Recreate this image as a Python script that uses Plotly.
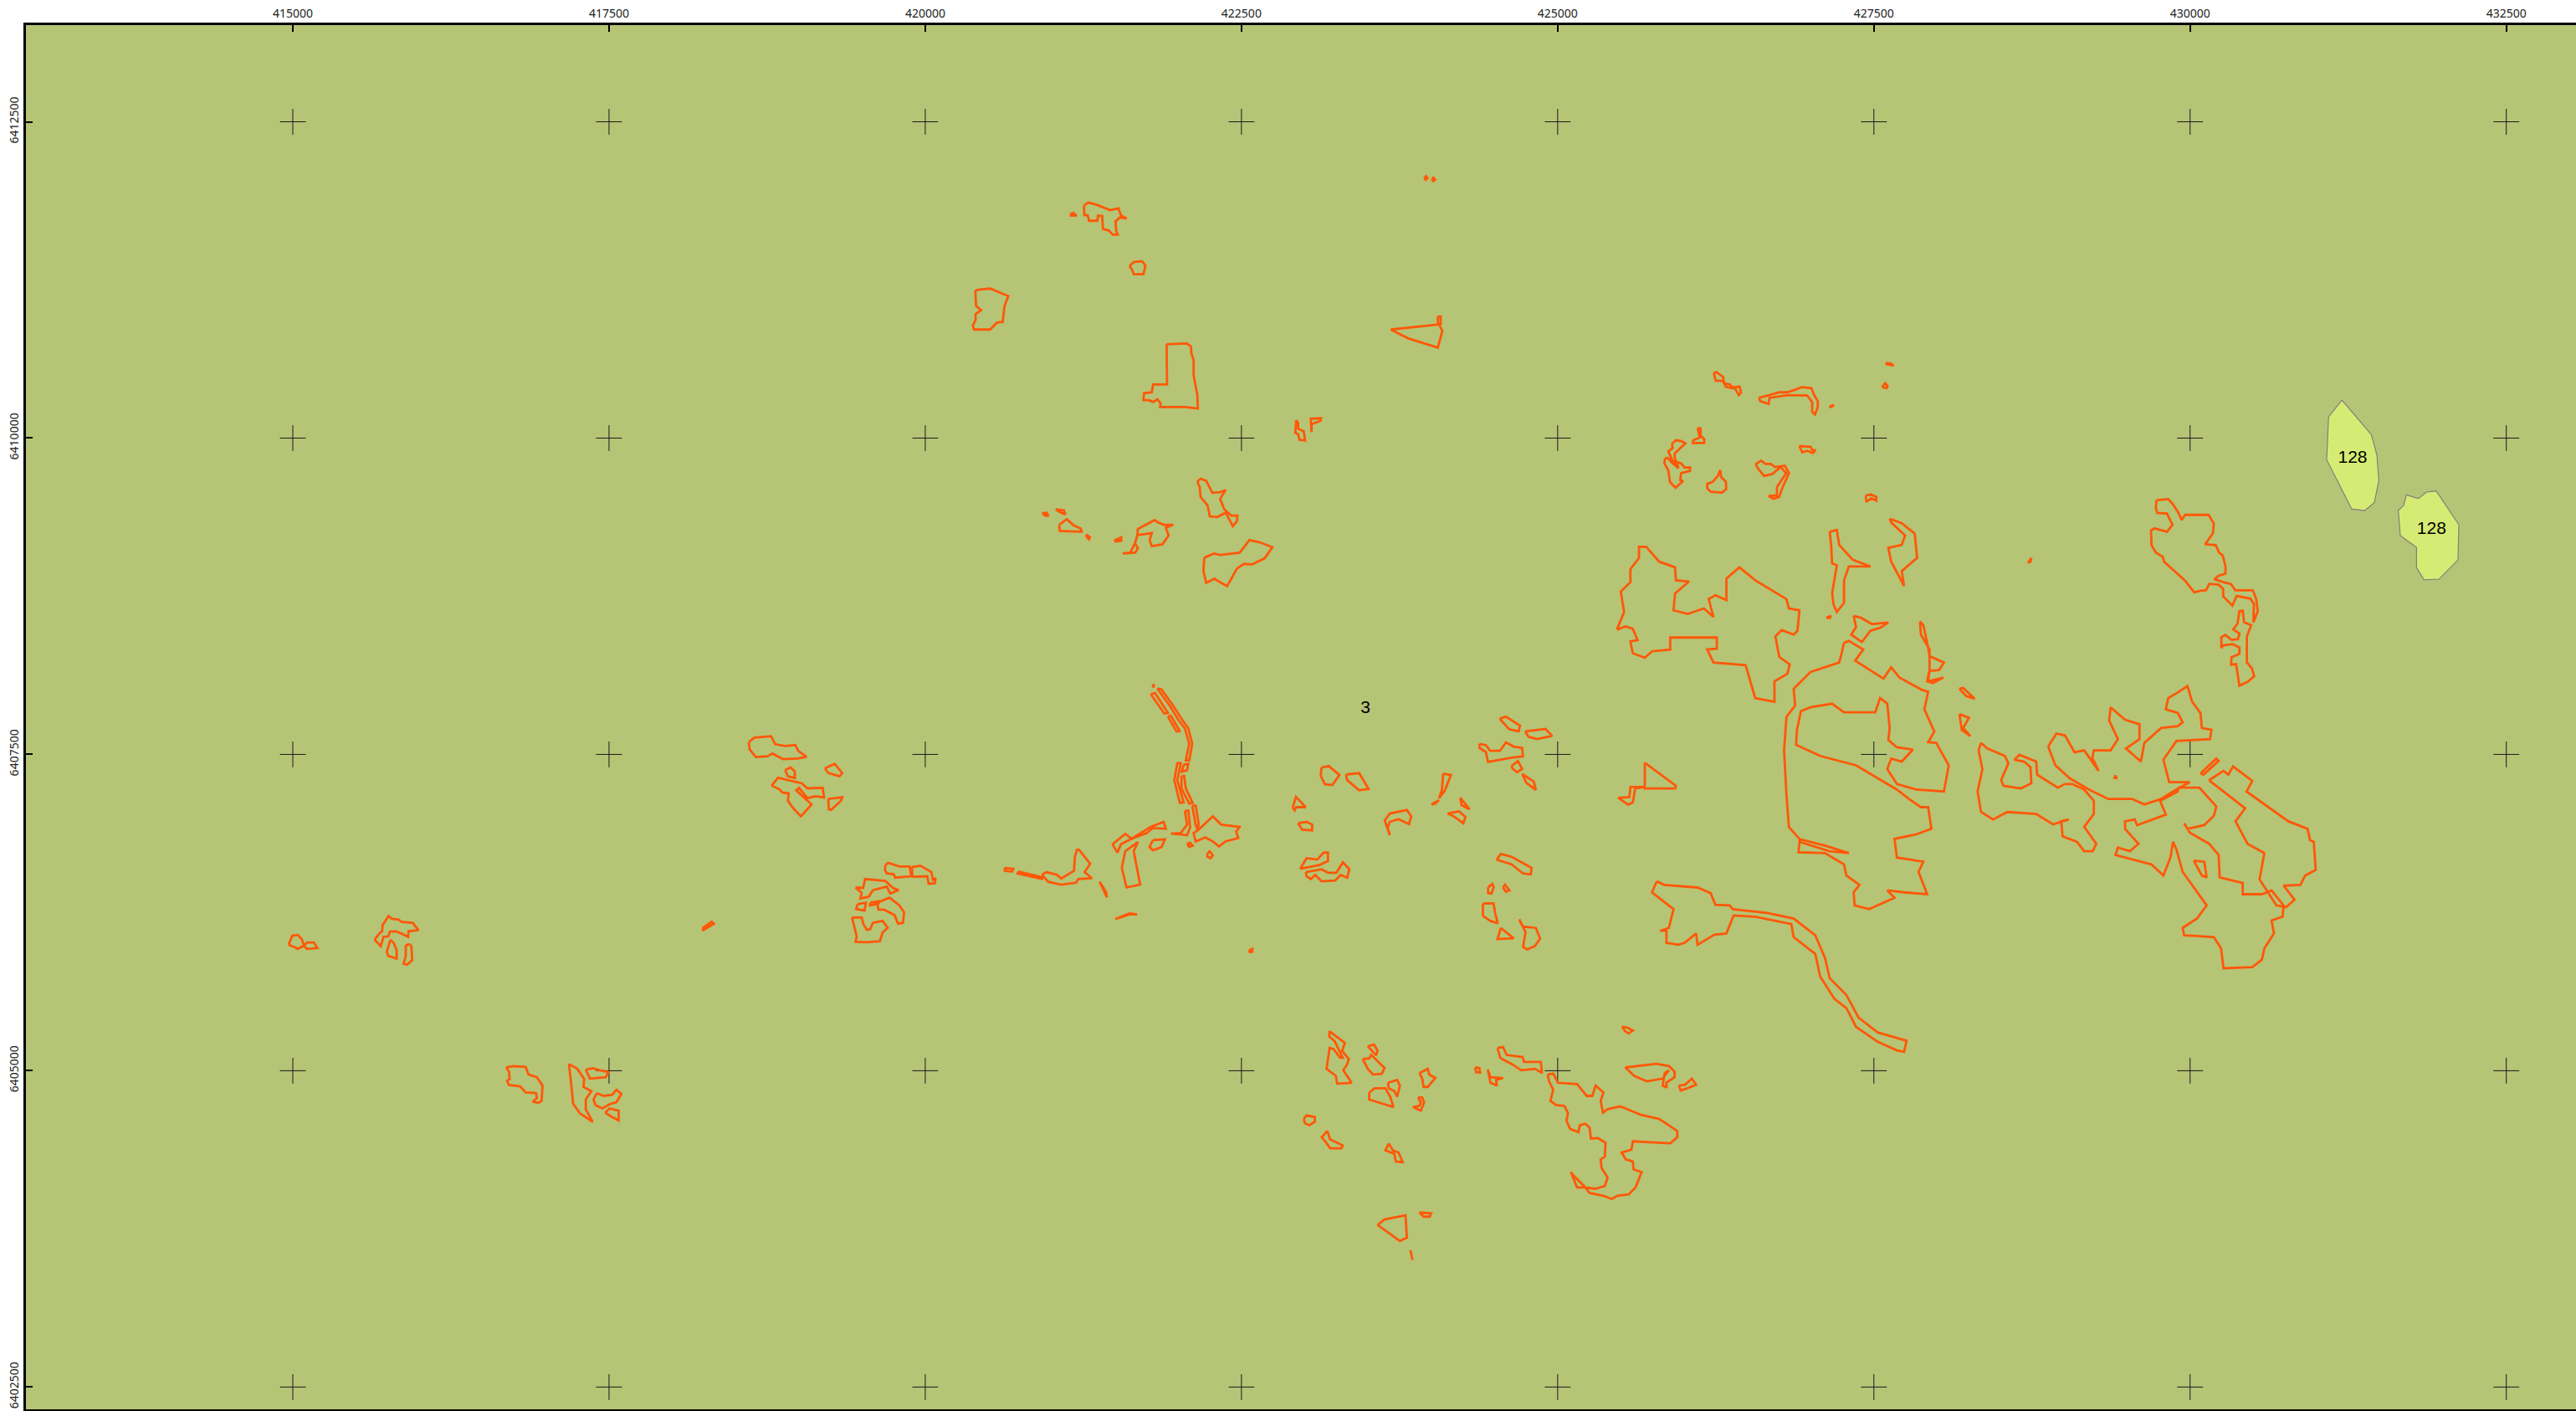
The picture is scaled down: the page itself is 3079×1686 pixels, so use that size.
import plotly.graph_objects as go

# Map grid (metres). Vertices below are stored as offsets from these bases.
E0 = 400000
N0 = 6400000
tick_e = [415000, 417500, 420000, 422500, 425000, 427500, 430000, 432500]
tick_n = [6412500, 6410000, 6407500, 6405000, 6402500]

zone_128_a_e = [31201,31095,31080,31278,31380,31457,31492,31477,31433]
zone_128_a_n = [10300,10168,9828,9440,9427,9491,9663,9866,10027]
zone_128_b_e = [31710,31805,31869,31946,32125,32118,31968,31849,31790,31790,31662,31646,31688]
zone_128_b_n = [9551,9522,9573,9582,9315,9039,8885,8880,8977,9136,9229,9429,9467]

label_text = ["128", "128", "3"]
label_e = [31285, 31909, 23480]
label_n = [9840, 9277, 7860]

# Each entry: (eastings, northings) of one mapped parcel boundary
parcels = [
# far west
([14967,14996,15040,15071,15089,15040,15011],[5996,6067,6073,6040,5990,5963,5979]),
([15089,15115,15166,15194,15115,15100],[5990,6014,6014,5970,5963,5974]),
([15646,15684,15706,15710,15757,15783,15838,15856,15949,15993,15915,15911,15856,15816,15768,15754,15717,15695],[6036,6085,6102,6151,6223,6201,6195,6177,6168,6111,6102,6058,6085,6102,6100,6062,6058,5985]),
([15772,15799,15821,15821,15754,15743],[6036,6007,5952,5886,5908,5941]),
([15915,15937,15944,15904,15876,15893,15893],[6003,5985,5875,5838,5846,5908,5985]),
([16687,16742,16841,16863,16930,16974,16967,16941,16897,16930,16923,16841,16797,16709,16694,16714,16709],[5026,5037,5031,4971,4949,4883,4762,4746,4755,4784,4823,4828,4876,4887,4920,4934,4993]),
([17183,17249,17304,17298,17360,17316,17316,17371,17271,17216,17201],[5053,5015,4934,4872,4839,4773,4695,4596,4662,4740,4894]),
([17316,17371,17426,17496,17474,17349],[5009,5020,5004,4989,4949,4938]),
([17404,17459,17525,17558,17598,17558,17503,17448,17393,17377],[4823,4801,4810,4850,4817,4751,4735,4702,4729,4773]),
([17470,17503,17576,17576,17525],[4667,4702,4684,4607,4634]),
# west centre
([18605,18649,18781,18814,18892,18973,18995,19061,18991,18876,18792,18753,18660,18612],[7596,7633,7644,7580,7567,7574,7529,7481,7468,7463,7507,7485,7479,7540]),
([19207,19284,19344,19322,19233],[7391,7426,7353,7327,7353]),
([18892,18936,18969,18969,18914],[7375,7397,7364,7313,7327]),
([18786,18836,19024,19068,19189,19200,19134,19068,19002,18980,19101,19017,18958,18914,18920,18870,18847],[7254,7316,7272,7232,7236,7159,7170,7155,7236,7216,7104,7011,7073,7133,7192,7199,7225]),
([19233,19344,19333,19255,19238],[7148,7161,7133,7062,7066]),
([19685,19707,19796,19877,19890,19762,19751,19696,19681],[6626,6643,6614,6614,6537,6526,6553,6559,6588]),
([19895,19961,20049,20060,20082,20076,20027,20016,19917,19899],[6610,6621,6570,6509,6522,6482,6478,6537,6533,6537]),
([19449,19509,19524,19685,19745,19789,19723,19696,19586,19553,19487,19498],[6449,6445,6515,6500,6445,6427,6401,6456,6427,6376,6361,6405]),
([19465,19531,19520,19454],[6317,6328,6266,6279]),
([19564,19630,19630,19564],[6328,6339,6321,6306]),
([19619,19718,19796,19833,19824,19785,19758,19674,19630],[6328,6368,6306,6251,6169,6163,6229,6273,6273]),
([19421,19498,19509,19538,19564,19586,19663,19703,19663,19641,19542,19449,19458],[6211,6211,6163,6114,6118,6169,6185,6130,6092,6024,6015,6019,6063]),
([18237,18312,18329,18246],[6125,6178,6162,6112]),
# north centre
([21255,21289,21350,21461,21527,21549,21593,21538,21505,21509,21522,21483,21450,21405,21399,21366,21361,21295,21284,21258],[11839,11861,11846,11802,11817,11758,11736,11744,11714,11641,11608,11608,11641,11652,11755,11758,11718,11718,11762,11762]),
([21147,21170,21196,21152],[11769,11780,11758,11758]),
([21615,21648,21714,21741,21725,21648,21637],[11359,11392,11398,11365,11295,11295,11328]),
([20396,20424,20512,20656,20627,20612,20568,20512,20385,20376,20398,20398,20442,20402],[11167,11173,11182,11123,11045,10918,10913,10858,10858,10891,10935,10979,11012,11045]),
([21908,22067,22100,22104,22122,22122,22151,22155,22056,21857,21862,21835,21802,21769,21725,21730,21791,21802,21912],[10741,10748,10726,10671,10616,10494,10340,10234,10245,10245,10274,10307,10285,10300,10300,10355,10362,10424,10424]),
([22151,22177,22221,22270,22331,22375,22331,22365,22420,22468,22464,22431,22409,22375,22309,22250,22232,22177,22170],[9656,9679,9663,9568,9573,9590,9520,9436,9387,9387,9343,9304,9348,9410,9376,9381,9469,9535,9612]),
([20925,20960,20975,20949],[9407,9410,9385,9387]),
([21031,21097,21108,21075],[9436,9429,9396,9410]),
([21059,21119,21174,21229,21236,21064],[9315,9359,9310,9286,9260,9266]),
([21273,21302,21295,21278],[9238,9216,9200,9216]),
([21494,21549,21549,21509],[9189,9216,9189,9182]),
([21677,21681,21813,21846,21890,21961,21902,21924,21875,21791,21774,21791,21677,21659,21621,21560,21659,21681,21659],[9233,9282,9352,9330,9315,9315,9293,9231,9160,9145,9194,9249,9233,9171,9094,9088,9094,9127,9171]),
([22206,22283,22331,22486,22563,22640,22744,22684,22585,22519,22464,22387,22309,22287,22221,22199],[9055,9088,9077,9094,9194,9178,9138,9050,9002,9006,8969,8830,8874,8889,8856,8951]),
([23945,23958,23971,23958],[12055,12069,12055,12042]),
([24004,24018,24031,24018],[12044,12058,12044,12031]),
([23680,24062,24088,24053,23819],[10858,10898,10847,10715,10788]),
([24053,24075,24075,24053],[10962,10962,10902,10902]),
([22933,22948,22948,22992,23003,22959,22948,22926],[10142,10120,10075,10053,9981,9987,10031,10042]),
([23054,23048,23129,23125,23054],[10047,10153,10157,10137,10109]),
# north east
([26234,26256,26307,26316,26360,26382,26439,26450,26432,26404,26329,26307,26249],[10517,10521,10484,10433,10424,10402,10406,10358,10340,10389,10406,10450,10455]),
([26591,26675,26752,26814,26884,26929,27006,27028,27056,27056,27034,27012,27012,26973,26818,26675,26668,26602],[10318,10340,10362,10362,10384,10402,10395,10340,10292,10241,10186,10208,10285,10336,10340,10318,10270,10292]),
([27149,27182,27175,27153],[10248,10263,10252,10245]),
([27594,27634,27656,27601],[10594,10589,10572,10583]),
([27564,27590,27608,27601],[10402,10433,10411,10395]),
([26106,26130,26130,26161,26157,26069,26073,26124],[10080,10076,10021,9988,9961,9961,9983,10005]),
([25848,25870,25903,25954,25941,25976,26002,26047,26047,25976,25969,25991,25932,25888,25875,25844],[9838,9844,9807,9763,9811,9800,9767,9767,9741,9723,9668,9661,9608,9652,9745,9800]),
([25903,25936,25980,26009,25969,25925,25925,25954,25903,25875,25910],[9954,9983,9976,9959,9921,9877,9844,9763,9833,9895,9921]),
([26285,26267,26223,26183,26183,26212,26300,26333,26329,26293],[9749,9701,9652,9639,9602,9575,9569,9597,9657,9690]),
([26911,26999,27012,27039,27017,26973,26933],[9937,9932,9906,9904,9882,9899,9888]),
([26565,26609,26642,26686,26719,26796,26829,26774,26752,26708,26668,26734,26734,26807,26763,26719,26697,26631,26587],[9793,9822,9796,9796,9771,9782,9723,9602,9536,9520,9542,9547,9613,9723,9771,9734,9716,9701,9756]),
([27436,27480,27519,27519,27480,27440],[9547,9553,9536,9507,9524,9496]),
# east
([29735,29828,29861,29905,29934,29960,30147,30187,30181,30119,30203,30229,30258,30280,30280,30225,30192,30258,30324,30357,30496,30522,30535,30500,30505,30478,30368,30335,30262,30262,30225,30152,30125,30081,30033,29960,29795,29784,29729,29695,29691,29718,29817,29861,29817,29740,29729],[9509,9518,9481,9415,9353,9393,9393,9326,9249,9161,9154,9095,9073,8985,8929,8912,8885,8863,8846,8797,8797,8731,8632,8544,8687,8731,8753,8676,8749,8808,8841,8848,8797,8793,8780,8874,9022,9062,9095,9154,9271,9287,9260,9315,9404,9408,9448]),
([30247,30247,30280,30328,30379,30390,30341,30375,30390,30416,30427,30483,30449,30449,30489,30507,30456,30390,30364,30324,30328,30390,30390,30335,30258],[8339,8427,8444,8405,8411,8455,8489,8533,8632,8636,8544,8522,8433,8228,8180,8118,8074,8043,8213,8209,8268,8295,8345,8372,8361]),
([25468,25525,25499,25575,25575,25643,25643,25700,25803,25928,25935,26038,25928,25916,26030,26156,26232,26194,26247,26334,26334,26437,26562,26809,26828,26911,26896,26866,26771,26721,26752,26835,26816,26714,26714,26562,26486,26232,26182,26258,26258,25890,25890,25746,25689,25594,25575,25632,25594,25537],[8486,8625,8787,8861,8964,9053,9141,9141,9023,8979,8876,8867,8772,8639,8610,8654,8586,8728,8758,8719,8890,8979,8876,8728,8654,8639,8477,8447,8483,8433,8270,8211,8137,8078,7916,7945,8205,8226,8329,8335,8424,8424,8329,8315,8264,8300,8394,8403,8492,8512]),
([27264,27302,27416,27352,27576,27637,27701,27880,27929,27899,27978,27929,27993,28092,28054,27834,27682,27606,27637,27720,27808,27682,27614,27625,27606,27549,27511,27264,27169,26999,26923,26892,26885,27075,27359,27682,27777,27872,27929,27955,27834,27663,27682,27891,27853,27921,27739,27606,27663,27462,27348,27340,27386,27283,27264,27113,26904,26915,26828,26809,26790,26809,26877,26866,26999,27226,27245],[8382,8397,8329,8241,8099,8188,8108,8010,7996,7857,7680,7597,7591,7414,7207,7222,7266,7384,7467,7443,7538,7556,7615,7709,7901,7945,7833,7833,7901,7872,7842,7694,7576,7488,7414,7222,7148,7083,7083,6912,6868,6832,6685,6652,6572,6395,6410,6425,6366,6277,6307,6410,6469,6543,6631,6720,6726,6829,6927,7178,7532,7798,7886,8019,8152,8226,8300]),
([26915,27113,27302,27150,26915],[6829,6779,6720,6735,6808]),
([25689,25935,25928,25689],[7435,7252,7231,7231]),
([25689,25575,25567,25480,25556,25594,25613],[7243,7243,7163,7157,7104,7119,7231]),
([25784,25841,26106,26209,26247,26361,26384,26657,26866,27037,27113,27151,27283,27378,27530,27758,27739,27682,27530,27359,27283,27188,27075,27037,26866,26847,26562,26391,26334,26239,26106,26095,26004,25954,25860,25860,25810,25879,25916,25746],[6498,6469,6448,6404,6312,6307,6277,6247,6203,6070,5893,5731,5598,5421,5303,5237,5149,5161,5229,5347,5494,5568,5745,5923,6056,6159,6218,6227,6085,6076,5996,6085,6011,5996,6011,6106,6106,6129,6277,6410]),
([27151,27207,27226,27333,27473,27302,27264,27264,27207,27181,27170,27207,27170,27162],[9260,9274,9156,9038,8985,8985,8876,8698,8625,8684,8772,8994,9009,9156]),
([27124,27162,27151],[8580,8595,8577]),
([27625,27720,27823,27842,27720,27739,27637,27614,27720,27747,27637],[9363,9327,9245,9053,8949,8831,9023,9133,9156,9230,9333]),
([27340,27397,27485,27614,27549,27473,27405,27321,27359],[8595,8580,8530,8542,8501,8477,8388,8447,8507]),
([27864,27891,27929,27940,28054,28016,27940,27929,28050,27967,27921,27940,27940,27872],[8551,8521,8344,8276,8226,8167,8161,8078,8108,8064,8078,8167,8329,8447]),
([28176,28206,28297,28233],[8019,8025,7940,7960]),
([28176,28252,28206,28263,28195],[7818,7789,7709,7644,7694]),
([28719,28745,28738],[9014,9053,9023]),
([28347,28396,28536,28563,28506,28525,28662,28745,28738,28688,28612,28650,28783,28791,28954,29011,29068,29163,29239,29239,29163,29258,29231,29163,29106,28992,28981,29041,28916,28783,28555,28442,28347,28320,28358,28328],[7591,7547,7488,7429,7296,7252,7231,7272,7399,7443,7458,7497,7443,7340,7237,7266,7266,7222,7133,7030,6927,6794,6735,6735,6809,6853,6971,6986,6947,7030,7045,6986,7045,7207,7384,7532]),
([28878,28943,29011,29087,29163,29277,29227,29239,29372,29429,29360,29372,29486,29600,29600,29493,29611,29638,29771,29903,29941,29903,29808,29827,29903,29979,30017,30082,30093,30169,30158,29892,29789,29835,29998,29865,29771,29638,29543,29353,29201,29049,28935],[7562,7665,7650,7517,7532,7370,7473,7532,7532,7621,7768,7872,7774,7739,7621,7547,7443,7591,7709,7724,7753,7827,7857,7945,7990,8040,7916,7827,7709,7694,7621,7606,7458,7281,7281,7207,7148,7104,7148,7148,7222,7311,7414]),
([29903,30074,30207,30188,30112,29979,29953,29998,30150,30226,30234,30416,30416,30568,30644,30739,30731,30644,30663,30587,30568,30492,30264,30245,30188,30055,29953,29941,30055,30131,29941,29892,29865,29846,29789,29694,29467,29410,29429,29524,29592,29486,29486,29562,29581,29808,29763,29903],[7237,7237,7089,7015,6941,6912,6956,6882,6794,6705,6528,6484,6395,6395,6425,6307,6218,6188,6085,5967,5878,5819,5810,5967,6056,6065,6070,6129,6203,6307,6572,6749,6809,6690,6543,6631,6690,6705,6764,6735,6794,6912,6971,6986,6941,7024,7133,7207]),
([30150,30264,30302,30340,30492,30446,30777,30929,30948,30978,30993,30910,30872,30739,30826,30758,30682,30549,30587,30454,30359,30435],[7296,7370,7340,7405,7290,7207,6971,6912,6823,6809,6587,6543,6469,6463,6351,6292,6307,6513,6720,6794,6971,7074]),
([30082,30207,30226,30106],[7349,7467,7449,7340]),
([30029,30112,30131,30093],[6661,6652,6528,6543]),
([29410,29421,29402],[7334,7310,7316]),
# central spine and cluster
([21794,21810,21804],[8040,8054,8036]),
([21834,21868,21952,22026,22080,22111,22087,22060,22087,22053,22003,21935],[8021,8014,7897,7782,7705,7584,7452,7452,7584,7705,7771,7882]),
([21783,21817,21919,21891],[7976,7985,7827,7822]),
([21918,21942,22013,21986],[7800,7805,7683,7683]),
([22043,22080,22070,22029],[7419,7425,7375,7364]),
([21993,22020,21993,22043,22013,21969],[7434,7430,7297,7121,7117,7297]),
([22026,22047,22060,22114,22087,22026],[7330,7330,7231,7117,7110,7231]),
([22111,22138,22161,22155,22138],[7095,7095,6956,6900,6945]),
([22053,22080,22094,22070,22026,21942,22020,22070],[7055,7055,6923,6861,6867,6874,6878,6945]),
([22155,22273,22340,22485,22458,22475,22374,22323,22273,22215,22138,22121],[6900,7011,6945,6927,6890,6839,6812,6773,6812,6845,6812,6878]),
([22070,22094,22114,22087],[6795,6801,6779,6768]),
([22229,22249,22273,22256,22232],[6713,6735,6702,6680,6691]),
([21480,21581,21632,21783,21885,21902,21800,21750,21632,21547,21520],[6790,6872,6834,6927,6967,6912,6918,6878,6834,6790,6724]),
([21581,21682,21648,21699,21591,21554],[6735,6808,6735,6471,6449,6603]),
([21800,21895,21868,21800,21773],[6823,6830,6768,6742,6768]),
([20629,20697,20687,20629],[6603,6596,6574,6581]),
([20737,20923,20923,20730],[6574,6530,6515,6559]),
([20923,20957,21041,21075,21176,21183,21200,21216,21304,21260,21318,21210,21193,21075,20973],[6548,6570,6548,6519,6581,6691,6746,6746,6636,6570,6521,6515,6486,6471,6493]),
([21379,21429,21436],[6493,6415,6371]),
([21503,21615,21675,21615],[6199,6243,6235,6235]),
([22559,22586,22586,22566],[5952,5963,5941,5937]),
([23133,23190,23275,23218,23160,23127],[7397,7408,7337,7258,7264,7330]),
([23326,23430,23505,23430,23336],[7341,7352,7227,7216,7297]),
([22904,22931,23008,22931,22921],[7077,7165,7083,7083,7059]),
([22948,23015,23059,23059,22981],[6956,6967,6945,6900,6905]),
([23673,23633,23673,23808,23842,23825,23741,23673,23656],[6861,6978,7033,7061,7011,6949,6989,6967,6923]),
([24001,24062,24028],[7103,7139,7110]),
([24095,24156,24105,24062,24085],[7348,7337,7209,7154,7220]),
([24230,24304,24240],[7158,7066,7099]),
([24129,24220,24271,24254,24179],[7033,7050,7006,6956,7011]),
([22964,23015,23099,23150,23184,23184,23116],[6596,6680,6669,6724,6724,6658,6625]),
([23008,23133,23184,23251,23302,23353,23336,23285,23241,23133,23083,23049,23015],[6570,6592,6565,6565,6647,6592,6526,6548,6504,6497,6548,6515,6537]),
([24541,24591,24702,24692,24618],[7782,7798,7727,7683,7699]),
([24743,24905,24956,24838,24770],[7683,7701,7646,7622,7639]),
([24382,24433,24466,24544,24591,24652,24719,24726,24635,24449,24433,24382],[7584,7573,7529,7529,7595,7562,7551,7485,7474,7441,7518,7551]),
([24635,24686,24719,24679,24645],[7408,7447,7386,7359,7386]),
([24719,24811,24828,24753],[7346,7286,7220,7275]),
([24517,24551,24635,24794,24787,24726,24635],[6669,6713,6691,6603,6552,6559,6632]),
([24450,24484,24494,24477,24450],[6449,6477,6449,6400,6404]),
([24568,24584,24618,24591],[6449,6471,6426,6415]),
([24409,24493,24507,24527,24467,24409],[6321,6323,6239,6166,6184,6224]),
([24551,24591,24652,24524],[6129,6096,6047,6041]),
([24696,24726,24827,24861,24821,24760,24726,24746],[6195,6140,6129,6045,5986,5959,5979,6096]),
# south centre
([23195,23318,23296,23349,23334,23305,23371,23257,23246,23173,23197,23230,23279,23301,23235,23195],[5313,5220,5158,5092,5048,5004,4905,4898,4960,5015,5181,5170,5103,5103,5236,5269]),
([23499,23548,23576,23565,23532],[5192,5207,5158,5121,5158]),
([23459,23510,23526,23631,23609,23539,23499],[5092,5097,5125,5022,4976,4971,5015]),
([23907,23973,23984,24033,23973,23940,23929],[4982,5015,4971,4942,4872,4872,4938]),
([23658,23731,23753,23731,23709,23665],[4905,4927,4883,4795,4839,4861]),
([23510,23554,23638,23676,23702,23510],[4828,4861,4861,4795,4713,4773]),
([23896,23929,23944,23918,23856,23907,23918],[4788,4788,4750,4684,4713,4722,4750]),
([22992,23014,23080,23080,23036,23003],[4618,4647,4634,4596,4570,4585]),
([23179,23201,23257,23301,23290,23201,23168,23135],[4524,4457,4431,4409,4387,4387,4435,4475]),
([23665,23698,23742,23775,23720,23709,23638],[4424,4369,4354,4277,4283,4343,4371]),
([23576,23631,23797,23808,23753],[3781,3825,3858,3681,3655]),
([23907,24000,23989,23940],[3880,3873,3847,3847]),
([23836,23852],[3582,3505]),
([24348,24381,24386,24355],[5026,5022,4987,4989]),
([24447,24469,24568,24513,24520,24469],[5009,4949,4942,4927,4883,4905]),
([24524,24568,24597,24723,24734,24866,24877,24822,24712,24646,24568,24546],[5181,5187,5125,5108,5070,5070,4982,5015,5004,5048,5088,5103]),
([24921,24965,25003,25153,25230,25274,25300,25362,25340,25358,25395,25495,25660,25803,25946,25946,25891,25594,25583,25506,25539,25594,25600,25664,25616,25561,25472,25428,25362,25252,25219,25153,25104,25120,25219,25296,25373,25395,25347,25340,25373,25378,25318,25263,25252,25219,25175,25164,25098,25069,25082,25054,24987,24943,24965,24932],[4971,4978,4905,4894,4801,4801,4883,4828,4762,4669,4696,4718,4651,4618,4524,4475,4427,4442,4376,4354,4299,4283,4221,4199,4078,4023,4012,3986,4012,4034,4078,4078,4199,4177,4078,4067,4089,4155,4232,4299,4321,4431,4468,4464,4552,4581,4568,4515,4541,4607,4662,4722,4729,4762,4850,4916]),
([25534,25781,25880,25924,25924,25858,25863,25830,25847,25880,25830,25704,25605],[5026,5055,5037,4993,4949,4905,4867,4883,4982,5004,4938,4916,4960]),
([25958,26008,26061,26094,26024,25973],[4883,4890,4938,4890,4861,4843]),
([25510,25554,25594,25561,25532],[5350,5339,5317,5295,5313]),
]

ORANGE = "#FF5808"
fig = go.Figure()

# Grid crosses
cross_x = [e for e in tick_e for _ in tick_n]
cross_y = [n for _ in tick_e for n in tick_n]
fig.add_trace(go.Scatter(x=cross_x, y=cross_y, mode="markers",
                         marker=dict(symbol="cross-thin", size=22, color="black",
                                     line=dict(color="#1a1a1a", width=1))))

# Pale zone polygons
for ze, zn in ((zone_128_a_e, zone_128_a_n), (zone_128_b_e, zone_128_b_n)):
    fig.add_trace(go.Scatter(x=[E0 + v for v in ze + ze[:1]], y=[N0 + v for v in zn + zn[:1]],
                             mode="lines", fill="toself", fillcolor="#D6EB73",
                             line=dict(color="#7A7A7A", width=1.1)))

# Parcel outlines
px, py = [], []
for pe, pn in parcels:
    px += [E0 + v for v in pe + pe[:1]] + [None]
    py += [N0 + v for v in pn + pn[:1]] + [None]
fig.add_trace(go.Scatter(x=px, y=py, mode="lines", connectgaps=False,
                         line=dict(color=ORANGE, width=2.8, simplify=False)))

# Zone labels
fig.add_trace(go.Scatter(x=[E0 + v for v in label_e], y=[N0 + v for v in label_n],
                         mode="text", text=label_text, textposition="middle center",
                         textfont=dict(family="Liberation Sans", size=21, color="black")))

axis_font = dict(family="Noto Sans", size=14, color="#222222")
fig.update_layout(
    width=3079, height=1686, showlegend=False,
    paper_bgcolor="white", plot_bgcolor="#B6C476",
    margin=dict(l=31, r=0, t=30, b=2),
    xaxis=dict(side="top", range=[412890, 433051], tickmode="array", tickvals=tick_e,
               ticktext=[str(v) for v in tick_e], ticks="inside", ticklen=8, tickwidth=2,
               tickcolor="black", showline=True, linecolor="black", linewidth=3, mirror=True,
               showgrid=False, zeroline=False, tickfont=axis_font),
    yaxis=dict(range=[6402324, 6413264], tickmode="array", tickvals=tick_n,
               ticktext=[str(v) for v in tick_n], ticks="inside", ticklen=8, tickwidth=2,
               tickcolor="black", showline=True, linecolor="black", linewidth=3,
               tickangle=-90, showgrid=False, zeroline=False, tickfont=axis_font),
)

fig.write_html("out.html", config={"displayModeBar": False},
               post_script="document.body.style.margin='0';")
